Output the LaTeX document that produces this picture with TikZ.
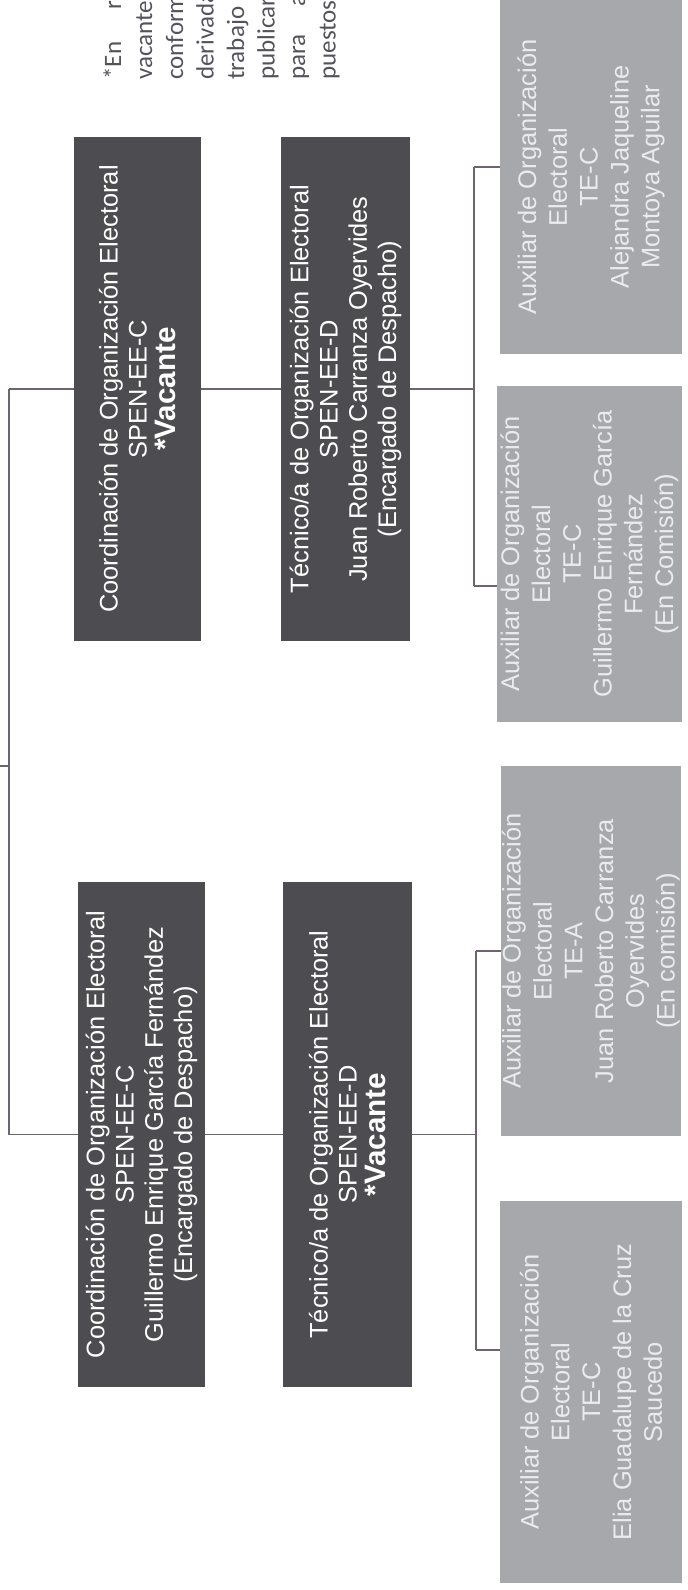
\documentclass[tikz,border=0pt]{standalone}
\usepackage{fontspec}
\setmainfont{Liberation Sans}
\newfontfamily\notefont{Carlito}
\usetikzlibrary{backgrounds}
\definecolor{darkbox}{HTML}{4D4C50}
\definecolor{lightbox}{HTML}{A7A8AC}
\definecolor{lighttext}{HTML}{EBEBEE}
\definecolor{linecol}{HTML}{6D6470}
\definecolor{notecol}{HTML}{55535A}
\tikzset{
  dbox/.style={fill=darkbox, text=white, rotate=90, align=center, inner sep=0pt,
    font=\fontsize{12.7}{14.6}\selectfont},
  gbox/.style={fill=lightbox, text=lighttext, rotate=90, align=center, inner sep=0pt,
    font=\fontsize{12.7}{15.4}\selectfont},
  conn/.style={draw=linecol, line width=0.7pt},
  noteline/.style={rotate=90, anchor=base west, inner sep=0pt, text=notecol,
    font=\notefont\fontsize{12.5}{14}\selectfont}
}
\newcommand{\vacbold}{{\fontsize{14.8}{15}\selectfont\bfseries *Vacante}}
\begin{document}
\begin{tikzpicture}[x=0.5pt, y=-0.5pt]
\path[use as bounding box] (0,0) rectangle (688,1590);
\begin{scope}
\clip (0,0) rectangle (688,1590);
% note text (cut off at the top)
\node[noteline] (n1) at (121,80) {*En\hspace{16pt}relación};
\node[noteline] (n2) at (152,80) {vacante};
\node[noteline] (n3) at (183,80) {conforme};
\node[noteline] (n4) at (213.5,80) {derivada};
\node[noteline] (n5) at (244,80) {trabajo};
\node[noteline] (n6) at (274.5,80) {publicar};
\node[noteline] (n7) at (305,80) {para\hspace{14pt}a};
\node[noteline] (n8) at (335.5,80) {puestos};

% dark boxes
\node[dbox, minimum width=252pt, minimum height=63.5pt] (A) at (137.5,389)
  {Coordinación de Organización Electoral\\SPEN-EE-C\\\vacbold};
\node[dbox, minimum width=252pt, minimum height=64.5pt] (B) at (345.5,389)
  {Técnico/a de Organización Electoral\\SPEN-EE-D\\Juan Roberto Carranza Oyervides\\(Encargado de Despacho)};
\node[dbox, minimum width=252.5pt, minimum height=63.5pt] (C) at (141.5,1134.5)
  {Coordinación de Organización Electoral\\SPEN-EE-C\\Guillermo Enrique García Fernández\\(Encargado de Despacho)};
\node[dbox, minimum width=252.5pt, minimum height=64.5pt] (D) at (347.5,1134.5)
  {Técnico/a de Organización Electoral\\SPEN-EE-D\\\vacbold};

% light boxes
\node[gbox, minimum width=177pt, minimum height=91pt] (G1) at (591,177)
  {Auxiliar de Organización\\Electoral\\TE-C\\Alejandra Jaqueline\\Montoya Aguilar};
\node[gbox, minimum width=168pt, minimum height=92.5pt] (G2) at (589.5,554)
  {Auxiliar de Organización\\Electoral\\TE-C\\Guillermo Enrique García\\Fernández\\(En Comisión)};
\node[gbox, minimum width=185pt, minimum height=90pt] (G3) at (591,951)
  {Auxiliar de Organización\\Electoral\\TE-A\\Juan Roberto Carranza\\Oyervides\\(En comisión)};
\node[gbox, minimum width=191pt, minimum height=91pt] (G4) at (591,1392)
  {Auxiliar de Organización\\Electoral\\TE-C\\Elia Guadalupe de la Cruz\\Saucedo};

% connectors
\coordinate (root) at (0,766);
\coordinate (tm) at (9,766);
\coordinate (tt) at (9,389);
\coordinate (tb) at (9,1134.5);
\coordinate (b1t) at (474,167);
\coordinate (b1m) at (474,389);
\coordinate (b1b) at (474,586);
\coordinate (b2t) at (476,951);
\coordinate (b2m) at (476,1134.5);
\coordinate (b2b) at (476,1350);
\begin{scope}[on background layer]
\fill[white] (0,0) rectangle (688,1590);
\draw[conn] (root) -- (tm);
\draw[conn] (tt) -- (tb);
\draw[conn] (tt) -- (A.north);
\draw[conn] (A.south) -- (B.north);
\draw[conn] (B.south) -- (b1m);
\draw[conn] (tb) -- (C.north);
\draw[conn] (C.south) -- (D.north);
\draw[conn] (D.south) -- (b2m);
\draw[conn] (b1t) -- (b1b);
\draw[conn] (b1t) -- (G1.north |- b1t);
\draw[conn] (b1b) -- (G2.north |- b1b);
\draw[conn] (b2t) -- (b2b);
\draw[conn] (b2t) -- (G3.north |- b2t);
\draw[conn] (b2b) -- (G4.north |- b2b);
\end{scope}
\end{scope}
\end{tikzpicture}
\end{document}
